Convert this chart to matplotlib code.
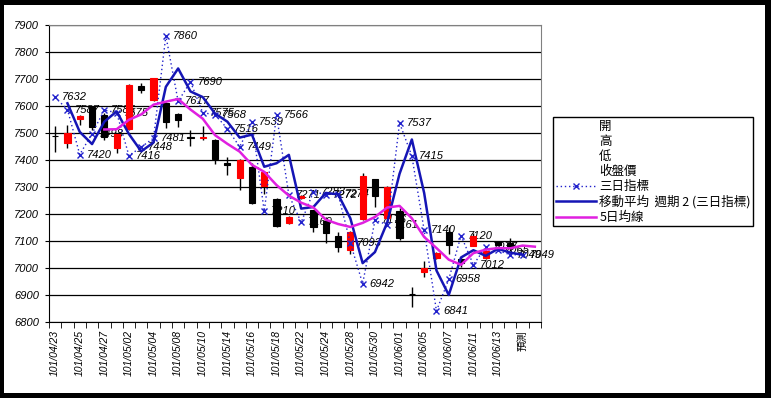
import matplotlib
matplotlib.use('Agg')
import matplotlib.pyplot as plt
from matplotlib.lines import Line2D
from matplotlib.patches import Rectangle

plt.rcParams['font.family'] = ['Noto Sans CJK TC', 'DejaVu Sans']

dates = ['101/04/23', '101/04/24', '101/04/25', '101/04/26', '101/04/27', '101/04/30',
         '101/05/02', '101/05/03', '101/05/04', '101/05/07', '101/05/08', '101/05/09',
         '101/05/10', '101/05/11', '101/05/14', '101/05/15', '101/05/16', '101/05/17',
         '101/05/18', '101/05/21', '101/05/22', '101/05/23', '101/05/24', '101/05/25',
         '101/05/28', '101/05/29', '101/05/30', '101/05/31', '101/06/01', '101/06/04',
         '101/06/05', '101/06/06', '101/06/07', '101/06/08', '101/06/11', '101/06/12',
         '101/06/13', '101/06/14', '預測', '']

opens = [7490, 7462, 7551, 7597, 7565, 7443, 7514, 7674, 7622, 7610, 7572, 7485, 7483,
         7475, 7390, 7332, 7375, 7304, 7255, 7166, 7258, 7214, 7175, 7117, 7067, 7180,
         7328, 7184, 7210, 6905, 6987, 7037, 7135, 7032, 7081, 7036, 7098, 7092]
highs = [7525, 7530, 7567, 7600, 7573, 7500, 7680, 7685, 7705, 7615, 7575, 7510, 7525,
         7476, 7412, 7402, 7388, 7358, 7258, 7192, 7272, 7216, 7190, 7135, 7137, 7352,
         7330, 7302, 7222, 6928, 7025, 7060, 7150, 7042, 7128, 7065, 7100, 7110]
lows = [7430, 7445, 7530, 7511, 7475, 7427, 7512, 7647, 7620, 7518, 7523, 7450, 7474,
        7385, 7345, 7290, 7238, 7275, 7150, 7164, 7255, 7135, 7092, 7060, 7050, 7178,
        7225, 7180, 7104, 6855, 6968, 7035, 7050, 7005, 7080, 7033, 7080, 7064]
closes = [7488, 7499, 7563, 7524, 7487, 7495, 7678, 7660, 7703, 7542, 7549, 7483, 7486,
          7402, 7382, 7400, 7242, 7355, 7155, 7190, 7268, 7152, 7128, 7077, 7135, 7342,
          7265, 7300, 7110, 6903, 6999, 7057, 7085, 7018, 7118, 7062, 7087, 7080]

# 三日指標
three_day = [7632, 7587, 7420, 7498, 7585, 7575, 7416, 7448, 7481, 7860, 7617, 7690,
             7575, 7568, 7516, 7449, 7539, 7210, 7566, 7271, 7169, 7283, 7272, 7274,
             7093, 6942, 7176, 7161, 7537, 7415, 7140, 6841, 6958, 7120, 7012, 7077,
             7065, 7049, 7049]
# 移動平均 週期 2, starts at second point
ma2 = [7610, 7504, 7459, 7542, 7580, 7496, 7432, 7465, 7671, 7739, 7654, 7633, 7572,
       7542, 7483, 7494, 7375, 7388, 7419, 7220, 7226, 7278, 7273, 7184, 7018, 7059,
       7169, 7349, 7476, 7278, 6991, 6900, 7039, 7066, 7045, 7071, 7057, 7049]
# 5日均線, starts at fifth point
ma5 = [7513, 7514, 7549, 7569, 7605, 7616, 7626, 7587, 7553, 7492, 7460, 7431, 7382,
       7356, 7307, 7268, 7242, 7224, 7179, 7163, 7152, 7167, 7189, 7224, 7230, 7184,
       7115, 7074, 7031, 7012, 7055, 7068, 7074, 7073, 7083, 7079]

W, H = 771, 398
fig = plt.figure(figsize=(W / 100, H / 100), dpi=100, facecolor='black')
fig.patches.append(Rectangle((4 / W, 5 / H), 761 / W, 388 / H, transform=fig.transFigure,
                             facecolor='white', edgecolor='none', zorder=-10))
ax = fig.add_axes([49 / W, 1 - 322 / H, 492 / W, 297 / H])
ax.set_facecolor('white')

num_font = dict(family='Liberation Sans', style='italic')

# candles
for i in range(len(closes)):
    o, h, l, c = opens[i], highs[i], lows[i], closes[i]
    col = '#ff0000' if c >= o else 'black'
    ax.vlines(i, l, h, color='black', lw=1, zorder=3)
    ax.bar(i, abs(c - o), bottom=min(o, c), width=0.5, color=col, edgecolor=col,
           lw=0.8, zorder=4)

x3 = list(range(len(three_day)))
ax.plot(x3, three_day, color='#2222cc', ls=(0, (1, 2)), lw=1, marker='x', ms=5,
        mew=1, zorder=5)
ax.plot(list(range(1, 1 + len(ma2))), ma2, color='#1515b5', lw=1.8, zorder=5)
ax.plot(list(range(4, 4 + len(ma5))), ma5, color='#e020e0', lw=1.8, zorder=5)

for i, v in enumerate(three_day):
    ax.annotate(str(v), (i, v), xytext=(5, 0), textcoords='offset points',
                va='center', ha='left', fontsize=8, zorder=2, annotation_clip=False,
                **num_font)

ax.set_xlim(-0.5, len(dates) - 0.5)
ax.set_ylim(6800, 7900)
ax.set_yticks(range(6800, 8000, 100))
ax.set_yticklabels([str(v) for v in range(6800, 8000, 100)], fontsize=8, **num_font)
ax.set_xticks(range(0, len(dates), 2))
ax.set_xticklabels(dates[::2], rotation=90, fontsize=7.5)
for t in ax.get_xticklabels():
    if t.get_text() != '預測':
        t.set_family('Liberation Sans')
        t.set_style('italic')
ax.set_xticks([i - 0.5 for i in range(len(dates) + 1)], minor=True)
ax.tick_params(axis='x', which='major', length=0, pad=6)
ax.tick_params(axis='x', which='minor', length=4, direction='out', color='black')
ax.tick_params(axis='y', length=3, direction='out', pad=4)
ax.yaxis.grid(True, color='black', lw=0.9)
ax.set_axisbelow(True)
ax.spines['top'].set_color('#808080')
ax.spines['right'].set_color('#808080')

blank = Line2D([], [], ls='none')
handles = [blank, blank, blank, blank,
           Line2D([], [], color='#2222cc', ls=(0, (1, 2)), lw=1, marker='x', ms=5),
           Line2D([], [], color='#1515b5', lw=1.8),
           Line2D([], [], color='#e020e0', lw=1.8)]
labels = ['開', '高', '低', '收盤價', '三日指標', '移動平均  週期 2 (三日指標)', '5日均線']
leg = fig.legend(handles, labels, loc='upper left', bbox_to_anchor=(553 / W, 1 - 117 / H),
                 bbox_transform=fig.transFigure, frameon=True, fancybox=False,
                 edgecolor='black', framealpha=1, fontsize=9, handlelength=3.2,
                 handletextpad=0.3, labelspacing=0.17, borderpad=0.2, borderaxespad=0)
leg.get_frame().set_linewidth(1)

fig.savefig('out.png', dpi=100, facecolor='black')
